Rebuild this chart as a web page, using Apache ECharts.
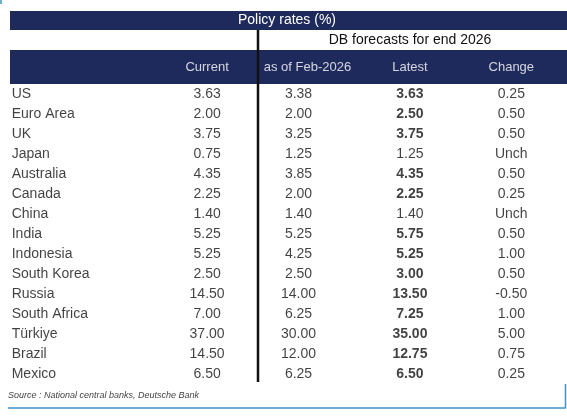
<!DOCTYPE html>
<html><head><meta charset="utf-8">
<script src="https://cdn.jsdelivr.net/npm/echarts@6/dist/echarts.min.js"></script>
<style>html,body{margin:0;padding:0;background:#fff}#c{width:567px;height:416px}</style>
</head><body><div id="c"></div>
<script>
// --- table data ---
const countries = ["US","Euro Area","UK","Japan","Australia","Canada","China","India","Indonesia","South Korea","Russia","South Africa","Türkiye","Brazil","Mexico"];
const current = ["3.63","2.00","3.75","0.75","4.35","2.25","1.40","5.25","5.25","2.50","14.50","7.00","37.00","14.50","6.50"];
const asOfFeb = ["3.38","2.00","3.25","1.25","3.85","2.00","1.40","5.25","4.25","2.50","14.00","6.25","30.00","12.00","6.25"];
const latest = ["3.63","2.50","3.75","1.25","4.35","2.25","1.40","5.75","5.25","3.00","13.50","7.25","35.00","12.75","6.50"];
const change = ["0.25","0.50","0.50","Unch","0.50","0.25","Unch","0.50","1.00","0.50","-0.50","1.00","5.00","0.75","0.25"];
const columns = ["Country","Current","as of Feb-2026","Latest","Change"];

const NAVY = "#1f2a5c";
const FONT = "Liberation Sans, Arial, sans-serif";
// horizontal nudge of each column's text inside its band
const colShift = [-54, 30, 10, 10, 0];

const chart = echarts.init(document.getElementById("c"), null, { renderer: "canvas" });

const cols = [countries, current, asOfFeb, latest, change];
const data = [];
cols.forEach((arr, ci) => {
  arr.forEach((v, ri) => {
    const isLatest = ci === 3 && v !== asOfFeb[ri];
    data.push({
      value: [ci, ri, v],
      label: {
        align: ci === 0 ? "left" : "center",
        offset: [colShift[ci], 0],
        fontWeight: isLatest ? "bold" : "normal",
      },
    });
  });
});

chart.setOption({
  animation: false,
  grid: { left: 10, right: 0, top: 84, height: 300 },
  xAxis: { type: "category", data: columns, show: false },
  yAxis: { type: "category", data: countries, inverse: true, show: false },
  series: [
    {
      type: "scatter",
      symbolSize: 0,
      data,
      label: {
        show: true,
        position: "inside",
        formatter: (p) => p.value[2],
        color: "#111",
        fontSize: 14,
        fontFamily: FONT,
      },
    },
    {
      // column headers drawn on the navy band
      type: "scatter",
      symbolSize: 0,
      data: columns.slice(1).map((c, i) => ({
        value: [i + 1, 0, c],
        label: { offset: [colShift[i + 1] + (i === 1 ? 9 : 0), -27] },
      })),
      label: {
        show: true,
        position: "inside",
        formatter: (p) => p.value[2],
        color: "#fff",
        fontSize: 13,
        fontFamily: FONT,
      },
      z: 5,
    },
  ],
  graphic: [
    { type: "rect", shape: { x: 10, y: 11, width: 557, height: 19 }, style: { fill: NAVY }, z: 0 },
    { type: "text", x: 287, y: 20, style: { text: "Policy rates (%)", fill: "#fff", font: "14px " + FONT, align: "center", verticalAlign: "middle" } },
    { type: "text", x: 410, y: 40, style: { text: "DB forecasts for end 2026", fill: "#111", font: "14px " + FONT, align: "center", verticalAlign: "middle" } },
    { type: "rect", shape: { x: 10, y: 50, width: 557, height: 34 }, style: { fill: NAVY }, z: 0 },
    { type: "line", shape: { x1: 258, y1: 30, x2: 258, y2: 382 }, style: { stroke: "#111", lineWidth: 2.5 }, z: 10 },
    { type: "text", x: 8, y: 395, style: { text: "Source : National central banks, Deutsche Bank", fill: "#444", font: "italic 9px " + FONT, verticalAlign: "middle" } },
    { type: "line", shape: { x1: 8, y1: 408, x2: 566, y2: 408 }, style: { stroke: "#3a96c6", lineWidth: 1.5 } },
    { type: "line", shape: { x1: 565.5, y1: 384, x2: 565.5, y2: 408 }, style: { stroke: "#3a96c6", lineWidth: 1.5 } },
    { type: "line", shape: { x1: 1, y1: 0, x2: 1, y2: 4 }, style: { stroke: "#3a96c6", lineWidth: 1.5 } },
  ],
});
</script></body></html>
